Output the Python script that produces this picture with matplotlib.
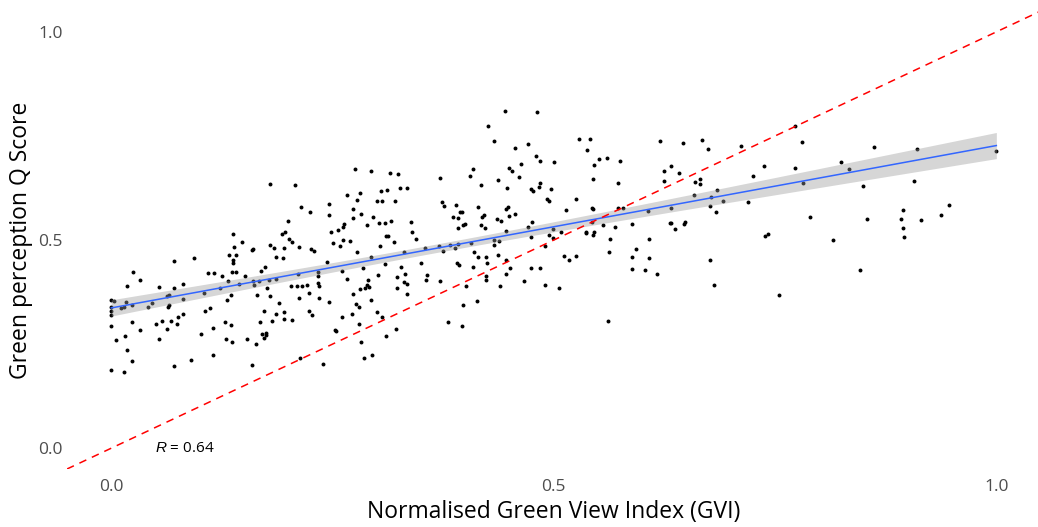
import numpy as np
import matplotlib
matplotlib.use("Agg")
import matplotlib.pyplot as plt

# ---------------- data ----------------
gvi = [
    0.179, 0.208, 0.214, 0.225, 0.246, 0.246, 0.200, 0.193, 0.196, 0.201,
    0.204, 0.138, 0.139, 0.148, 0.160, 0.179, 0.184, 0.195, 0.212, 0.226,
    # group 2
    0.445, 0.481, 0.426, 0.433, 0.471, 0.456, 0.480, 0.484, 0.500, 0.463,
    0.449, 0.453, 0.461, 0.437, 0.409, 0.405, 0.418, 0.371, 0.447, 0.474,
    0.476, 0.483, 0.485, 0.497, 0.492, 0.495, 0.374, 0.376, 0.389, 0.394,
    0.396, 0.386, 0.392, 0.392, 0.397, 0.400, 0.414, 0.421, 0.419, 0.418,
    0.422, 0.448, 0.446, 0.449, 0.456, 0.436, 0.440, 0.446, 0.475, 0.471,
    0.474, 0.499, 0.495, 0.499, 0.490, 0.433, 0.438, 0.432, 0.407, 0.275,
    0.293, 0.315, 0.324, 0.305, 0.312, 0.281, 0.266, 0.326, 0.334, 0.278,
    0.300, 0.306, 0.321, 0.273, 0.282, 0.273, 0.296, 0.316, 0.302, 0.309,
    0.289, 0.339, 0.263, 0.262, 0.256, 0.248, 0.340, 0.310, 0.313, 0.344,
    0.251, 0.262, 0.270, 0.258, 0.304, 0.319, 0.354, 0.370, 0.383, 0.392,
    0.388,
    # group 3
    0.528, 0.541, 0.538, 0.551, 0.560, 0.575, 0.546, 0.544, 0.573, 0.525,
    0.514, 0.543, 0.544, 0.572, 0.578, 0.556, 0.569, 0.543, 0.508, 0.536,
    0.536, 0.544, 0.546, 0.563, 0.588, 0.593, 0.608, 0.606, 0.620, 0.646,
    0.668, 0.674, 0.625, 0.632, 0.641, 0.625, 0.659, 0.665, 0.665, 0.633,
    0.631, 0.632, 0.637, 0.647, 0.648, 0.658, 0.678, 0.684, 0.691, 0.676,
    0.683, 0.712, 0.737, 0.725, 0.719, 0.739, 0.742,
    # group 4
    0.772, 0.781, 0.772, 0.782, 0.862, 0.910, 1.000, 0.825, 0.834, 0.849,
    0.907, 0.790, 0.854, 0.894, 0.892, 0.895, 0.896, 0.915, 0.937, 0.947,
    0.816,
    # group 5
    0.512, 0.517, 0.525, 0.562, 0.588, 0.608, 0.588, 0.603, 0.617, 0.676,
    0.681, 0.755, 0.561, 0.846,
    # group 6
    0.000, 0.003, 0.000, 0.000, 0.000, 0.000, 0.005, 0.000, 0.015, 0.017,
    0.011, 0.015, 0.023, 0.018, 0.025, 0.033, 0.024, 0.016, 0.018, 0.023,
    0.032, 0.042, 0.046, 0.054, 0.051, 0.054, 0.057, 0.063, 0.064, 0.065,
    0.063, 0.065, 0.071, 0.081, 0.081, 0.071, 0.093, 0.068, 0.076, 0.074,
    0.081, 0.071, 0.090, 0.102, 0.106, 0.112, 0.105, 0.109, 0.116, 0.123,
    0.125, 0.132, 0.131, 0.135, 0.137, 0.141, 0.138, 0.138, 0.133, 0.141,
    0.159, 0.151, 0.144, 0.129, 0.135, 0.115, 0.115, 0.130, 0.136, 0.153,
    0.164, 0.159, 0.169, 0.174, 0.160, 0.167, 0.165, 0.161, 0.176, 0.179,
    0.178, 0.186, 0.186, 0.194, 0.229, 0.190, 0.186, 0.195, 0.195, 0.182,
    0.173, 0.168, 0.175, 0.170, 0.173, 0.175, 0.204, 0.203, 0.210, 0.216,
    0.221, 0.212, 0.223, 0.223, 0.227, 0.211, 0.213, 0.239, 0.234, 0.234,
    0.234, 0.235, 0.235, 0.244, 0.246,
    # group 7
    0.278, 0.293, 0.331, 0.375, 0.410, 0.414, 0.423, 0.437, 0.446, 0.425,
    0.261, 0.284, 0.309, 0.327, 0.350, 0.391, 0.393, 0.409, 0.451, 0.446,
    0.474, 0.485, 0.423, 0.423, 0.466, 0.439, 0.490, 0.506, 0.401, 0.413,
    0.397, 0.381, 0.396, 0.266, 0.301, 0.323, 0.332, 0.331, 0.334, 0.323,
    0.334, 0.357, 0.356, 0.372, 0.290, 0.289, 0.287, 0.291, 0.281, 0.273,
    0.293, 0.277, 0.280, 0.261, 0.272, 0.300, 0.306, 0.280, 0.253, 0.254,
    0.310, 0.322, 0.282, 0.286, 0.295,
]

q_score = [
    0.635, 0.632, 0.579, 0.567, 0.587, 0.560, 0.546, 0.514, 0.519, 0.502,
    0.495, 0.514, 0.483, 0.495, 0.478, 0.488, 0.481, 0.481, 0.483, 0.478,
    # group 2
    0.810, 0.808, 0.774, 0.738, 0.731, 0.721, 0.702, 0.690, 0.688, 0.683,
    0.673, 0.666, 0.651, 0.644, 0.671, 0.654, 0.632, 0.649, 0.625, 0.623,
    0.618, 0.627, 0.637, 0.623, 0.599, 0.594, 0.591, 0.582, 0.584, 0.567,
    0.567, 0.555, 0.553, 0.529, 0.536, 0.538, 0.579, 0.560, 0.555, 0.536,
    0.529, 0.579, 0.575, 0.558, 0.563, 0.550, 0.546, 0.522, 0.543, 0.531,
    0.507, 0.526, 0.512, 0.505, 0.486, 0.500, 0.498, 0.488, 0.493, 0.671,
    0.666, 0.661, 0.659, 0.618, 0.620, 0.613, 0.608, 0.625, 0.625, 0.596,
    0.594, 0.594, 0.594, 0.575, 0.563, 0.553, 0.555, 0.546, 0.541, 0.541,
    0.536, 0.543, 0.538, 0.531, 0.524, 0.519, 0.519, 0.510, 0.510, 0.502,
    0.493, 0.500, 0.498, 0.486, 0.486, 0.495, 0.481, 0.486, 0.488, 0.490,
    0.481,
    # group 3
    0.743, 0.743, 0.716, 0.695, 0.697, 0.690, 0.680, 0.647, 0.637, 0.599,
    0.572, 0.577, 0.575, 0.577, 0.577, 0.536, 0.531, 0.543, 0.519, 0.519,
    0.517, 0.512, 0.519, 0.502, 0.538, 0.478, 0.502, 0.570, 0.738, 0.733,
    0.740, 0.719, 0.666, 0.678, 0.661, 0.642, 0.639, 0.647, 0.635, 0.577,
    0.541, 0.541, 0.526, 0.538, 0.543, 0.608, 0.603, 0.620, 0.594, 0.582,
    0.567, 0.726, 0.678, 0.654, 0.591, 0.510, 0.514,
    # group 4
    0.774, 0.736, 0.673, 0.637, 0.724, 0.719, 0.714, 0.688, 0.671, 0.630,
    0.642, 0.555, 0.550, 0.572, 0.550, 0.529, 0.507, 0.548, 0.560, 0.584,
    0.500,
    # group 5
    0.462, 0.452, 0.462, 0.471, 0.459, 0.457, 0.430, 0.428, 0.418, 0.452,
    0.392, 0.368, 0.305, 0.428,
    # group 6
    0.356, 0.353, 0.339, 0.329, 0.320, 0.293, 0.260, 0.188, 0.183, 0.351,
    0.337, 0.339, 0.344, 0.389, 0.423, 0.404, 0.303, 0.269, 0.236, 0.209,
    0.284, 0.339, 0.349, 0.387, 0.298, 0.262, 0.305, 0.286, 0.339, 0.344,
    0.365, 0.368, 0.385, 0.394, 0.358, 0.450, 0.457, 0.305, 0.315, 0.298,
    0.322, 0.197, 0.212, 0.274, 0.329, 0.337, 0.373, 0.421, 0.421, 0.385,
    0.413, 0.401, 0.356, 0.368, 0.423, 0.423, 0.445, 0.452, 0.464, 0.464,
    0.476, 0.413, 0.394, 0.303, 0.296, 0.288, 0.224, 0.262, 0.255, 0.262,
    0.250, 0.200, 0.425, 0.435, 0.401, 0.401, 0.368, 0.392, 0.385, 0.365,
    0.404, 0.406, 0.459, 0.457, 0.474, 0.349, 0.322, 0.327, 0.310, 0.305,
    0.329, 0.303, 0.276, 0.274, 0.264, 0.272, 0.308, 0.389, 0.389, 0.389,
    0.392, 0.361, 0.373, 0.329, 0.320, 0.418, 0.216, 0.202, 0.423, 0.413,
    0.397, 0.389, 0.361, 0.447, 0.351,
    # group 7
    0.471, 0.459, 0.471, 0.474, 0.471, 0.459, 0.459, 0.464, 0.452, 0.445,
    0.425, 0.433, 0.442, 0.435, 0.445, 0.445, 0.440, 0.435, 0.433, 0.418,
    0.433, 0.433, 0.413, 0.404, 0.401, 0.389, 0.392, 0.385, 0.389, 0.353,
    0.344, 0.303, 0.293, 0.406, 0.416, 0.411, 0.418, 0.399, 0.394, 0.385,
    0.370, 0.416, 0.404, 0.401, 0.404, 0.392, 0.385, 0.387, 0.382, 0.370,
    0.356, 0.346, 0.339, 0.315, 0.322, 0.327, 0.315, 0.298, 0.284, 0.281,
    0.269, 0.286, 0.255, 0.216, 0.224,
]

x_ticks = [0.0, 0.5, 1.0]
y_ticks = [0.0, 0.5, 1.0]
tick_labels = ["0.0", "0.5", "1.0"]
r_text = "0.64"
x_title = "Normalised Green View Index (GVI)"
y_title = "Green perception Q Score"

# ---------------- figure ----------------
plt.rcParams["font.family"] = ["Open Sans", "DejaVu Sans"]
plt.rcParams["mathtext.fontset"] = "custom"
plt.rcParams["mathtext.rm"] = "Liberation Sans"
plt.rcParams["mathtext.it"] = "Liberation Sans:italic"

fig = plt.figure(figsize=(10.38, 5.27), dpi=100)
ax = fig.add_axes([0.0645, 0.110, 0.938, 0.869])

x = np.asarray(gvi)
y = np.asarray(q_score)

# points
ax.scatter(x, y, s=8, color="black", linewidths=0, zorder=2)

# linear fit with 95% confidence band
slope, intercept = np.polyfit(x, y, 1)
n = len(x)
resid = y - (slope * x + intercept)
s_err = np.sqrt(np.sum(resid ** 2) / (n - 2))
xs = np.linspace(x.min(), x.max(), 200)
ys = slope * xs + intercept
se = s_err * np.sqrt(1.0 / n + (xs - x.mean()) ** 2 / np.sum((x - x.mean()) ** 2))
t_val = 1.966
ax.fill_between(xs, ys - t_val * se, ys + t_val * se, color="#999999",
                alpha=0.4, linewidth=0, zorder=3)
ax.plot(xs, ys, color="#3366FF", linewidth=1.1, zorder=4)

# identity line
ax.axline((0, 0), slope=1, color="red", linestyle=(0, (5, 4)),
          linewidth=1.1, zorder=5)

ax.text(0.05, 0.0, r"$\it{R}$ = " + r_text, fontsize=11, ha="left",
        va="center", color="black", zorder=6)

ax.set_xlim(-0.05, 1.05)
ax.set_ylim(-0.05, 1.05)
ax.set_xticks(x_ticks)
ax.set_yticks(y_ticks)
ax.set_xticklabels(tick_labels)
ax.set_yticklabels(tick_labels)
ax.tick_params(length=0, labelsize=12.5, labelcolor="#4D4D4D")
ax.tick_params(axis="x", pad=7)
ax.tick_params(axis="y", pad=3)
for sp in ax.spines.values():
    sp.set_visible(False)

ax.set_xlabel(x_title, fontsize=16.5, labelpad=4)
ax.set_ylabel(y_title, fontsize=16.5, labelpad=4)

fig.savefig("out.png", dpi=100)
